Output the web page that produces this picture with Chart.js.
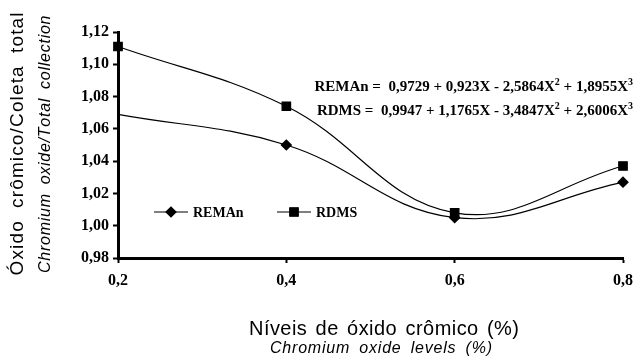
<!DOCTYPE html>
<html>
<head>
<meta charset="utf-8">
<script src="https://cdn.jsdelivr.net/npm/chart.js@4.4.1/dist/chart.umd.min.js"></script>
<style>
  html, body { margin: 0; padding: 0; background: #fff; }
  #wrap { width: 641px; height: 360px; }
</style>
</head>
<body>
<div id="wrap"><canvas id="grafico" width="641" height="360"></canvas></div>
<script>
// datos
const nivelesX = [0.2, 0.4, 0.6, 0.8];
const valoresREMAn = [1.069, 1.050, 1.005, 1.027];
const valoresRDMS = [1.111, 1.074, 1.008, 1.037];
const nombresSeries = ['REMAn', 'RDMS'];
const ecuaciones = [
    ['REMAn =  0,9729 + 0,923X - 2,5864X', '2', ' + 1,8955X', '3'],
    ['RDMS =  0,9947 + 1,1765X - 3,4847X', '2', ' + 2,6006X', '3']
];
const tituloY = ['Óxido crômico/Coleta total', 'Chromium oxide/Total collection'];
const tituloX = ['Níveis de óxido crômico (%)', 'Chromium oxide levels (%)'];
const ejeY = { min: 0.98, max: 1.12, paso: 0.02 };
const ejeX = { min: 0.2, max: 0.8, paso: 0.2 };

const SERIF = '"Liberation Serif", "Times New Roman", serif';
const SANS = '"Liberation Sans", Arial, sans-serif';

// texto con espaciado repartido (más en los espacios) para ocupar un ancho dado
function textoEspaciado(ctx, texto, cx, cy, ancho) {
    const chars = [...texto];
    const natural = ctx.measureText(texto).width;
    let pesos = 0;
    chars.forEach((ch, i) => { if (i < chars.length - 1) pesos += ch === ' ' ? 6 : 1; });
    const unidad = Math.max(0, ancho - natural) / pesos;
    let x = cx - ancho / 2;
    ctx.textAlign = 'left';
    ctx.textBaseline = 'middle';
    chars.forEach(ch => {
        ctx.fillText(ch, x, cy);
        x += ctx.measureText(ch).width + unidad * (ch === ' ' ? 6 : 1);
    });
}

const pluginTextos = {
    id: 'textosExtra',
    afterDraw(chart) {
        const ctx = chart.ctx;
        ctx.save();
        ctx.fillStyle = '#000';

        // título eje Y (rotado)
        ctx.save();
        ctx.translate(18, 144);
        ctx.rotate(-Math.PI / 2);
        ctx.font = '19px ' + SANS;
        textoEspaciado(ctx, tituloY[0], 0, 0, 263);
        ctx.restore();
        ctx.save();
        ctx.translate(46, 145);
        ctx.rotate(-Math.PI / 2);
        ctx.font = 'italic 16px ' + SANS;
        textoEspaciado(ctx, tituloY[1], 0, 0, 256);
        ctx.restore();

        // título eje X
        ctx.font = '20px ' + SANS;
        textoEspaciado(ctx, tituloX[0], 384, 329, 270);
        ctx.font = 'italic 16px ' + SANS;
        textoEspaciado(ctx, tituloX[1], 381, 349, 222);

        // ecuaciones de regresión (alineadas a la derecha)
        ctx.textBaseline = 'alphabetic';
        ctx.textAlign = 'left';
        const normal = 'bold 15px ' + SERIF, sup = 'bold 10px ' + SERIF;
        ecuaciones.forEach((partes, i) => {
            let ancho = 0;
            partes.forEach((p, k) => { ctx.font = k % 2 ? sup : normal; ancho += ctx.measureText(p).width; });
            let x = 633 - ancho;
            const base = 91 + i * 24;
            partes.forEach((p, k) => {
                ctx.font = k % 2 ? sup : normal;
                ctx.fillText(p, x, k % 2 ? base - 6 : base);
                x += ctx.measureText(p).width;
            });
        });

        // leyenda
        const leyenda = [
            { x0: 154, estilo: 'rectRot', radio: 5 },
            { x0: 277, estilo: 'rect', radio: 6 }
        ];
        const yLey = 212;
        ctx.lineWidth = 1.2;
        ctx.strokeStyle = '#000';
        leyenda.forEach((l, i) => {
            ctx.beginPath();
            ctx.moveTo(l.x0, yLey);
            ctx.lineTo(l.x0 + 34, yLey);
            ctx.stroke();
            Chart.helpers.drawPoint(ctx, { pointStyle: l.estilo, radius: l.radio, rotation: 0, borderWidth: 1 }, l.x0 + 17, yLey);
            ctx.fill();
            ctx.font = 'bold 14px ' + SERIF;
            ctx.textBaseline = 'middle';
            ctx.fillText(nombresSeries[i], l.x0 + 39, yLey + 1);
        });
        ctx.restore();
    }
};

const comunEje = {
    type: 'linear',
    grid: { drawOnChartArea: false, drawTicks: true, tickLength: 5, tickWidth: 2, color: '#000' },
    border: { display: true, color: '#000', width: 3 }
};

new Chart(document.getElementById('grafico'), {
    type: 'line',
    data: {
        datasets: [
            {
                label: nombresSeries[0],
                data: nivelesX.map((x, i) => ({ x: x, y: valoresREMAn[i] })),
                borderColor: '#000', backgroundColor: '#000', borderWidth: 1.2,
                pointStyle: 'rectRot', pointRadius: [0, 5, 5, 5],
                tension: 0.4, clip: false
            },
            {
                label: nombresSeries[1],
                data: nivelesX.map((x, i) => ({ x: x, y: valoresRDMS[i] })),
                borderColor: '#000', backgroundColor: '#000', borderWidth: 1.2,
                pointStyle: 'rect', pointRadius: 6,
                tension: 0.4, clip: false
            }
        ]
    },
    options: {
        responsive: false,
        devicePixelRatio: 1,
        animation: false,
        layout: { padding: { left: 0, top: 32, right: 12, bottom: 62 } },
        plugins: { legend: { display: false }, tooltip: { enabled: false } },
        scales: {
            x: {
                ...comunEje,
                min: ejeX.min, max: ejeX.max,
                ticks: {
                    stepSize: ejeX.paso, color: '#000', padding: 8,
                    font: { family: SERIF, size: 16, weight: 'bold' },
                    callback: v => v.toFixed(1).replace('.', ',')
                },
                afterFit: s => { s.height = 40; }
            },
            y: {
                ...comunEje,
                min: ejeY.min, max: ejeY.max,
                ticks: {
                    stepSize: ejeY.paso, color: '#000', padding: 4,
                    font: { family: SERIF, size: 16, weight: 'bold' },
                    callback: v => v.toFixed(2).replace('.', ',')
                },
                afterFit: s => { s.width = 118; }
            }
        }
    },
    plugins: [pluginTextos]
});
</script>
</body>
</html>
